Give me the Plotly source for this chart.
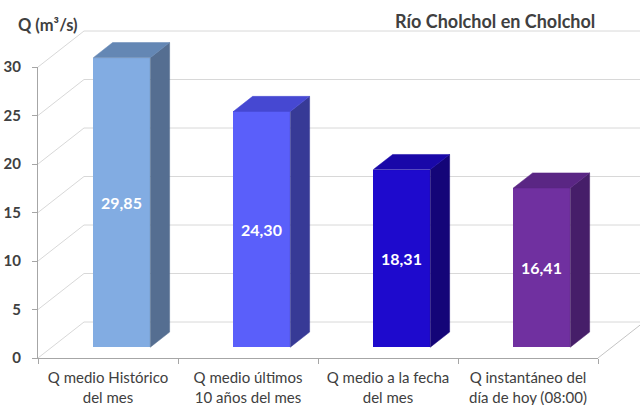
import plotly.graph_objects as go

# --- data -------------------------------------------------------------
categories = [
    "Q medio Histórico<br>del mes",
    "Q medio últimos<br>10 años del mes",
    "Q medio a la fecha<br>del mes",
    "Q instantáneo del<br>día de hoy (08:00)",
]
caudales = [29.85, 24.30, 18.31, 16.41]
y_ticks = [0, 5, 10, 15, 20, 25, 30]

front_colors = ["#82ACE2", "#5A5FFA", "#1E0ACD", "#7030A0"]
top_colors = ["#6487B4", "#4648D2", "#1908A8", "#5A2684"]
side_colors = ["#556E91", "#373A96", "#140578", "#461E69"]

# --- geometry (pixels) ------------------------------------------------
W, H = 640, 405
X0_PX, X1_PX = 38, 598        # front edge of the floor
Y0_PX = 358                   # value 0 on the front plane
PX_PER_UNIT = 9.7
CAT_PX = (X1_PX - X0_PX) / len(categories)
DEPTH_DX, DEPTH_DY = 46, 36   # oblique offset of the back wall
BAR_D0, BAR_D1 = 0.30, 0.72   # bar depth span (0 = front, 1 = back)
BAR_W = 57 / CAT_PX

# drawing axes use front-plane units: 1 x-unit per category, value units in y
x_range = [-0.5 - X0_PX / CAT_PX, -0.5 + (W - X0_PX) / CAT_PX]
y_range = [-(H - Y0_PX) / PX_PER_UNIT, Y0_PX / PX_PER_UNIT]
ddx = DEPTH_DX / CAT_PX
ddy = DEPTH_DY / PX_PER_UNIT
n = len(categories)

fig = go.Figure()

# back wall gridlines (with their diagonal run along the left wall) and floor edge
shapes = []
for t in y_ticks:
    shapes.append(dict(
        type="path", xref="x", yref="y", layer="below",
        path=f"M {-0.5},{t} L {-0.5 + ddx},{t + ddy} L {x_range[1] + 1},{t + ddy}",
        line=dict(color="#D8D8D8", width=1)))
shapes.append(dict(
    type="line", xref="x", yref="y", layer="below",
    x0=n - 0.5, y0=0, x1=n - 0.5 + ddx, y1=ddy,
    line=dict(color="#C4C4C4", width=1)))

# bar front faces
x_front = [i + BAR_D0 * ddx for i in range(n)]
base = BAR_D0 * ddy
fig.add_trace(go.Bar(
    x=x_front, y=caudales, base=base, width=BAR_W,
    marker=dict(color=front_colors, line=dict(width=0)),
    text=[f"{v:.2f}".replace(".", ",") for v in caudales],
    textposition="inside", insidetextanchor="middle", textangle=0,
    constraintext="none",
    textfont=dict(family="Lato", size=16, color="white", weight="bold"),
    hoverinfo="skip", showlegend=False,
))

# bar tops and right sides
dx = (BAR_D1 - BAR_D0) * ddx
dy = (BAR_D1 - BAR_D0) * ddy
for xc, v, ct, cs in zip(x_front, caudales, top_colors, side_colors):
    xl, xr = xc - BAR_W / 2, xc + BAR_W / 2
    yb, yt = base, base + v
    fig.add_trace(go.Scatter(
        x=[xr, xr + dx, xr + dx, xr, xr], y=[yb, yb + dy, yt + dy, yt, yb],
        fill="toself", fillcolor=cs, mode="lines", line=dict(color=cs, width=0.5),
        hoverinfo="skip", showlegend=False))
    fig.add_trace(go.Scatter(
        x=[xl, xr, xr + dx, xl + dx, xl], y=[yt, yt, yt + dy, yt + dy, yt],
        fill="toself", fillcolor=ct, mode="lines", line=dict(color=ct, width=0.5),
        hoverinfo="skip", showlegend=False))

# placeholder trace that carries the visible front axes
fig.add_trace(go.Scatter(x=categories, y=[0] * n, mode="markers",
                         marker=dict(opacity=0), xaxis="x2", yaxis="y2",
                         hoverinfo="skip", showlegend=False))

axis_gray = "#A6A6A6"
text_gray = "#404040"

fig.update_layout(
    template="none",
    width=W, height=H,
    margin=dict(l=0, r=0, t=0, b=0, autoexpand=False),
    paper_bgcolor="white", plot_bgcolor="rgba(0,0,0,0)",
    font=dict(family="Lato", color=text_gray),
    shapes=shapes,
    xaxis=dict(domain=[0, 1], range=x_range, visible=False, fixedrange=True,
               automargin=False),
    yaxis=dict(domain=[0, 1], range=y_range, visible=False, fixedrange=True,
               automargin=False),
    xaxis2=dict(
        domain=[X0_PX / W, X1_PX / W], anchor="y2", type="category",
        categoryorder="array", categoryarray=categories, range=[-0.5, n - 0.5],
        tickson="boundaries", ticks="outside", ticklen=5, tickcolor=axis_gray,
        showline=True, linecolor=axis_gray, linewidth=1, showgrid=False,
        tickfont=dict(family="Lato", size=15, color=text_gray),
        ticklabelstandoff=6, fixedrange=True, automargin=False,
    ),
    yaxis2=dict(
        domain=[(H - Y0_PX) / H, (H - (Y0_PX - 30 * PX_PER_UNIT)) / H],
        anchor="x2", range=[0, 30], tickvals=y_ticks,
        ticks="outside", ticklen=5, tickcolor=axis_gray,
        showline=True, linecolor=axis_gray, linewidth=1,
        showgrid=False, zeroline=False,
        tickfont=dict(family="Lato", size=15, color=text_gray, weight="bold"),
        ticklabelstandoff=8, fixedrange=True, automargin=False,
    ),
    bargap=0,
    annotations=[
        dict(text="Q (m³/s)", xref="paper", yref="paper",
             x=16 / W, y=1 - 25 / H, xanchor="left", yanchor="middle",
             showarrow=False,
             font=dict(family="Lato", size=16.5, color=text_gray, weight="bold")),
        dict(text="Río Cholchol en Cholchol", xref="paper", yref="paper",
             x=597 / W, y=1 - 21 / H, xanchor="right", yanchor="middle",
             showarrow=False,
             font=dict(family="Lato", size=18, color=text_gray, weight="bold")),
    ],
)

fig.write_html("out.html")
